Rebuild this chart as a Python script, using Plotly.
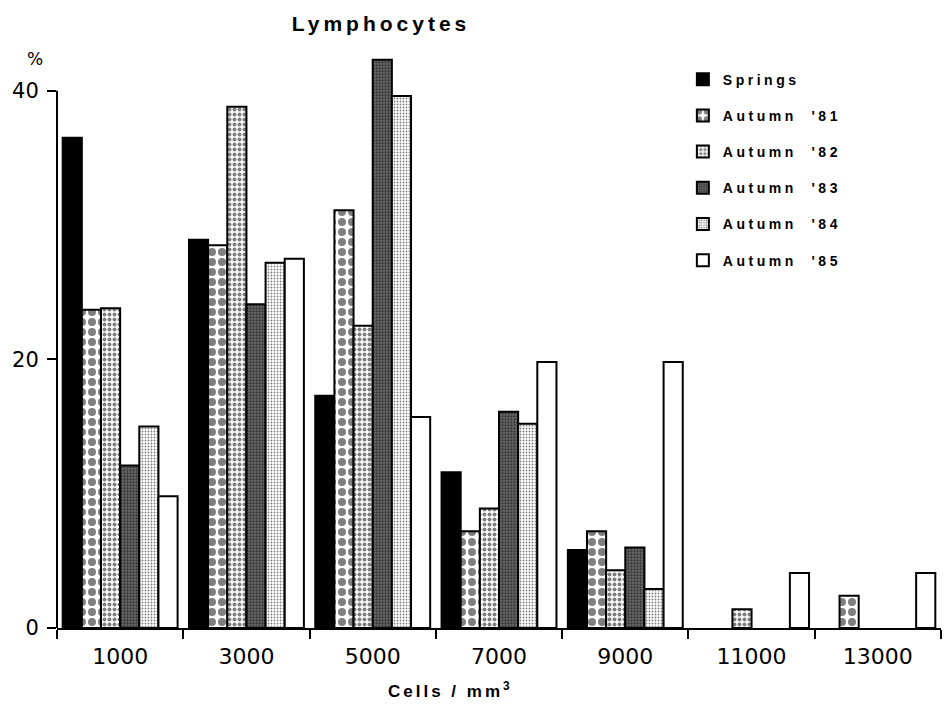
import plotly.graph_objects as go

categories = [1000, 3000, 5000, 7000, 9000, 11000, 13000]
tick_labels = ["1000", "3000", "5000", "7000", "9000", "11000", "13000"]

springs = [36.5, 28.9, 17.3, 11.6, 5.8, None, None]
autumn81 = [23.7, 28.5, 31.1, 7.2, 7.2, None, 2.4]
autumn82 = [23.8, 38.8, 22.5, 8.9, 4.3, 1.4, None]
autumn83 = [12.1, 24.1, 42.3, 16.1, 6.0, None, None]
autumn84 = [15.0, 27.2, 39.6, 15.2, 2.9, None, None]
autumn85 = [9.8, 27.5, 15.7, 19.8, 19.8, 4.1, 4.1]

LS = '<span style="letter-spacing:{}px">{}</span>'

series = [
    ("Springs", springs, dict(color="black")),
    ("Autumn  '81", autumn81, dict(color="white", pattern=dict(shape=".", fgcolor="black", bgcolor="white", size=10, solidity=0.5))),
    ("Autumn  '82", autumn82, dict(color="white", pattern=dict(shape=".", fgcolor="black", bgcolor="white", size=5, solidity=0.5))),
    ("Autumn  '83", autumn83, dict(color="#555555", pattern=dict(shape=".", fgcolor="black", bgcolor="#6a6a6a", size=3, solidity=0.45))),
    ("Autumn  '84", autumn84, dict(color="white", pattern=dict(shape=".", fgcolor="black", bgcolor="white", size=3, solidity=0.3))),
    ("Autumn  '85", autumn85, dict(color="white")),
]

fig = go.Figure()
for i, (name, vals, mk) in enumerate(series):
    mk = dict(mk)
    mk["line"] = dict(color="black", width=2)
    fig.add_trace(go.Bar(
        x=categories, y=vals, name=LS.format(3.5, name), marker=mk,
        legendgroup=f"g{i}",
    ))

FONT = "DejaVu Sans"
fig.update_layout(
    width=945, height=707,
    margin=dict(l=57, r=4, t=37, b=79),
    paper_bgcolor="white", plot_bgcolor="white",
    barmode="group", bargap=0.09, bargroupgap=0,
    showlegend=True,
    legend=dict(
        x=0.708, y=0.955, xanchor="left", yanchor="top",
        font=dict(family="Liberation Sans", size=14, color="black", weight="bold"),
        tracegroupgap=15, bgcolor="rgba(0,0,0,0)",
    ),
    title=dict(
        text=LS.format(4, "Lymphocytes"), x=381 / 945, xanchor="center", y=0.966, yanchor="middle",
        font=dict(family="Liberation Sans", size=21, color="black", weight="bold"),
    ),
    xaxis=dict(
        range=[0, 14000],
        tickmode="array", tickvals=categories, ticktext=tick_labels,
        ticks="outside", ticklen=0, ticklabelstandoff=8,
        tickfont=dict(family=FONT, size=22, color="black"),
        showline=True, linecolor="black", linewidth=2,
        showgrid=False, zeroline=False,
        minor=dict(tick0=0, dtick=2000, ticks="outside", ticklen=9, tickwidth=2, tickcolor="black", showgrid=False),
    ),
    yaxis=dict(
        range=[0, 44],
        tickmode="array", tickvals=[0, 20, 40], ticktext=["0", "20", "40"],
        ticks="outside", ticklen=9, tickwidth=2, tickcolor="black", ticklabelstandoff=4,
        tickfont=dict(family=FONT, size=21, color="black"),
        showline=False, showgrid=False, zeroline=False,
    ),
    annotations=[
        dict(text="%", xref="paper", yref="paper", x=-0.025, y=0.963, xanchor="center", yanchor="middle",
             showarrow=False, font=dict(family=FONT, size=17, color="black")),
        dict(text=LS.format(3, "Cells / mm<sup>3</sup>"), xref="paper", yref="paper", x=(450 - 57) / 884, y=-0.105,
             xanchor="center", yanchor="middle", showarrow=False,
             font=dict(family="Liberation Sans", size=17, color="black", weight="bold")),
    ],
    shapes=[
        dict(type="line", xref="x domain", yref="y", x0=0, x1=0, y0=0, y1=40,
             line=dict(color="black", width=2)),
    ],
)

fig.write_html("out.html")
